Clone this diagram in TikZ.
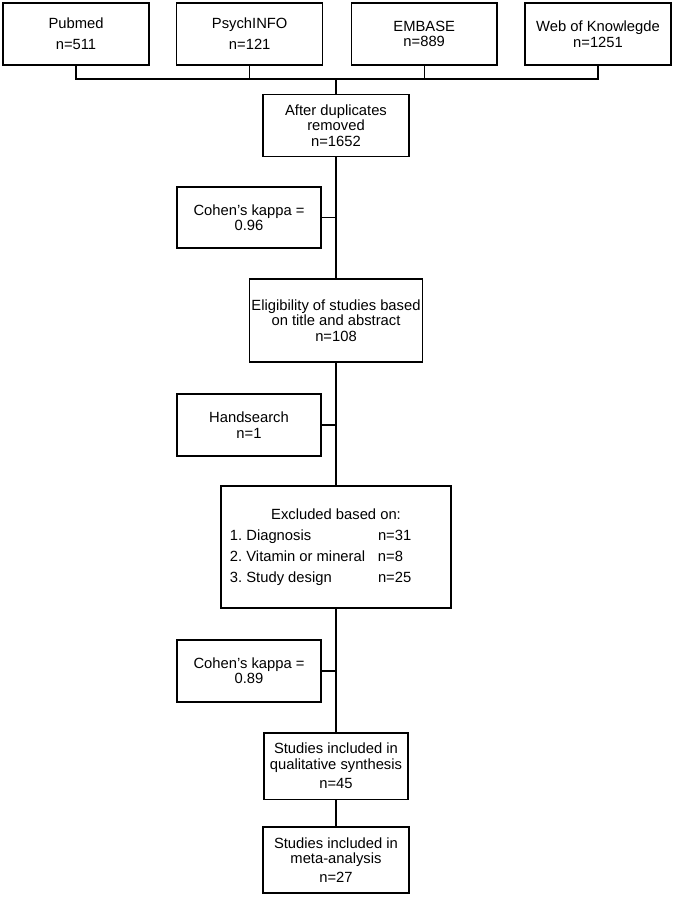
\documentclass[tikz,border=0pt]{standalone}
\usepackage{fontspec}
\setmainfont{Liberation Sans}
\usepackage{tikz}
\usepackage{array}

\tikzset{
  box/.style={draw, line width=1pt, align=center, inner sep=0pt,
    font=\fontsize{10.5pt}{10.9pt}\selectfont\frenchspacing},
  link/.style={line width=1pt}
}

\begin{document}
\begin{tikzpicture}[x=0.025cm,y=-0.025cm]
  \useasboundingbox (0,0) rectangle (674,899);
  % databases
  \node[box,minimum width=3.65cm,minimum height=1.55cm] (pubmed) at (76,34) {Pubmed\\[0.14cm]n=511};
  \node[box,minimum width=3.65cm,minimum height=1.55cm] (psych) at (249.7,34) {PsychINFO\\[0.14cm]n=121};
  \node[box,minimum width=3.63cm,minimum height=1.55cm] (embase) at (424.2,34) {EMBASE\\n=889};
  \node[box,minimum width=3.65cm,minimum height=1.55cm] (wok) at (598,34) {Web of Knowlegde\\[0.03cm]n=1251};
  \coordinate (bus) at (336,79);
  % main flow
  \node[box,minimum width=3.65cm,minimum height=1.56cm] (dup) at (336,125.5) {After duplicates\\removed\\n=1652};
  \node[box,minimum width=4.325cm,minimum height=2.075cm] (elig) at (336,320.5) {Eligibility of studies based\\on title and abstract\\n=108};
  \node[box,minimum width=5.75cm,minimum height=3.05cm] (excl) at (336,547) {%
    \renewcommand{\arraystretch}{1.36}%
    \begin{tabular}{@{}p{3.7cm}@{}p{1.6cm}@{}}
      \multicolumn{2}{@{}c@{}}{Excluded based on:}\\
      1. Diagnosis & n=31\\
      2. Vitamin or mineral & n=8\\
      3. Study design & n=25
    \end{tabular}};
  \node[box,minimum width=3.6cm,minimum height=1.66cm] (qual) at (336,766) {Studies included in\\qualitative synthesis\\[0.1cm]n=45};
  \node[box,minimum width=3.65cm,minimum height=1.65cm] (meta) at (336,860) {Studies included in\\meta-analysis\\[0.1cm]n=27};
  % side boxes
  \node[box,minimum width=3.6cm,minimum height=1.525cm] (kappa1) at (249,217.5) {Cohen’s kappa =\\0.96};
  \node[box,minimum width=3.6cm,minimum height=1.55cm] (hand) at (249,425) {Handsearch\\n=1};
  \node[box,minimum width=3.6cm,minimum height=1.54cm] (kappa2) at (249,671) {Cohen’s kappa =\\0.89};
  % connectors
  \draw[link] (pubmed.south) |- (bus) -| (wok.south);
  \draw[link] (psych.south) -- (psych.south |- bus);
  \draw[link] (embase.south) -- (embase.south |- bus);
  \draw[link] (bus) -- (dup.north);
  \draw[link] (dup.south) -- (elig.north);
  \draw[link] (elig.south) -- (excl.north);
  \draw[link] (excl.south) -- (qual.north);
  \draw[link] (qual.south) -- (meta.north);
  \draw[link] (kappa1.east) -- (kappa1.east -| dup.south);
  \draw[link] (hand.east) -- (hand.east -| elig.south);
  \draw[link] (kappa2.east) -- (kappa2.east -| excl.south);
\end{tikzpicture}
\end{document}
